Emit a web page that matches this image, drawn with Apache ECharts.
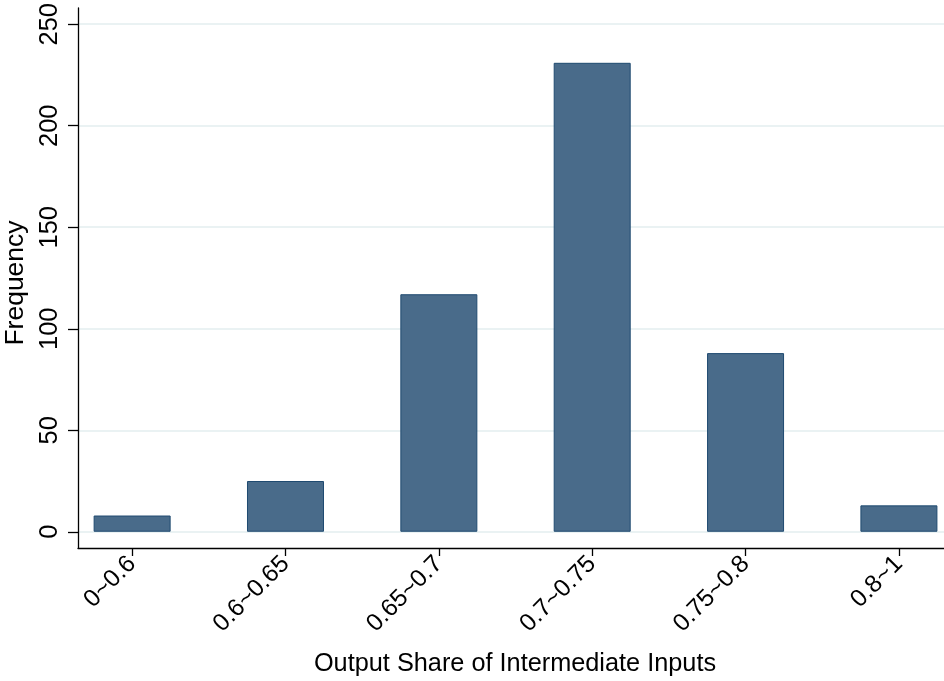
<!DOCTYPE html>
<html>
<head>
<meta charset="utf-8">
<script src="https://cdn.jsdelivr.net/npm/echarts@6/dist/echarts.min.js"></script>
<style>
  html, body { margin: 0; padding: 0; background: #ffffff; }
  #chart { width: 944px; height: 681px; }
</style>
</head>
<body>
<div id="chart"></div>
<script>
// Histogram bins of the output share of intermediate inputs
const categories = ['0~0.6', '0.6~0.65', '0.65~0.7', '0.7~0.75', '0.75~0.8', '0.8~1'];
const frequency = [8, 25, 117, 231, 88, 13];
const yTicks = [0, 50, 100, 150, 200, 250];

const binIndex = categories.map((_, i) => i);
const barData = binIndex.map(i => [i, frequency[i]]);

const FONT = '"Liberation Sans", Arial, Helvetica, sans-serif';

const chart = echarts.init(document.getElementById('chart'), null, { renderer: 'canvas' });
chart.setOption({
  animation: false,
  backgroundColor: '#ffffff',
  textStyle: { fontFamily: FONT, color: '#000' },
  grid: { left: 78, right: 0, top: 8, bottom: 133, outerBoundsMode: 'none', containLabel: false },
  xAxis: {
    type: 'value',
    min: -0.353,
    max: 5.294,
    name: 'Output Share of Intermediate Inputs',
    nameLocation: 'middle',
    nameGap: 104,
    nameTextStyle: { fontSize: 25.3, color: '#000', fontFamily: FONT, padding: [0, 0, 0, 8] },
    axisLine: { show: true, onZero: false, lineStyle: { color: '#000', width: 1.3 } },
    axisTick: { show: true, customValues: binIndex, length: 8, lineStyle: { color: '#000', width: 1.3 } },
    axisLabel: {
      customValues: binIndex,
      rotate: 45,
      fontSize: 24.5,
      color: '#000',
      fontFamily: FONT,
      margin: 12,
      formatter: v => categories[Math.round(v)]
    },
    splitLine: { show: false }
  },
  yAxis: {
    type: 'value',
    min: -8,
    max: 258,
    name: 'Frequency',
    nameLocation: 'middle',
    nameRotate: 90,
    nameGap: 43,
    nameTextStyle: { fontSize: 26.5, color: '#000', fontFamily: FONT, padding: [0, 10, 0, 0] },
    axisLine: { show: true, onZero: false, lineStyle: { color: '#000', width: 1.3 } },
    axisTick: { show: true, customValues: yTicks, length: 10, lineStyle: { color: '#000', width: 1.3 } },
    axisLabel: {
      customValues: yTicks,
      rotate: 90,
      fontSize: 25.5,
      color: '#000',
      fontFamily: FONT,
      margin: 15
    },
    splitLine: { show: true, lineStyle: { color: '#eaf2f3', width: 2 } }
  },
  series: [{
    type: 'bar',
    data: barData,
    barWidth: 77,
    itemStyle: { color: '#496b8a', borderColor: '#1f4a70', borderWidth: 1 }
  }]
});
</script>
</body>
</html>
